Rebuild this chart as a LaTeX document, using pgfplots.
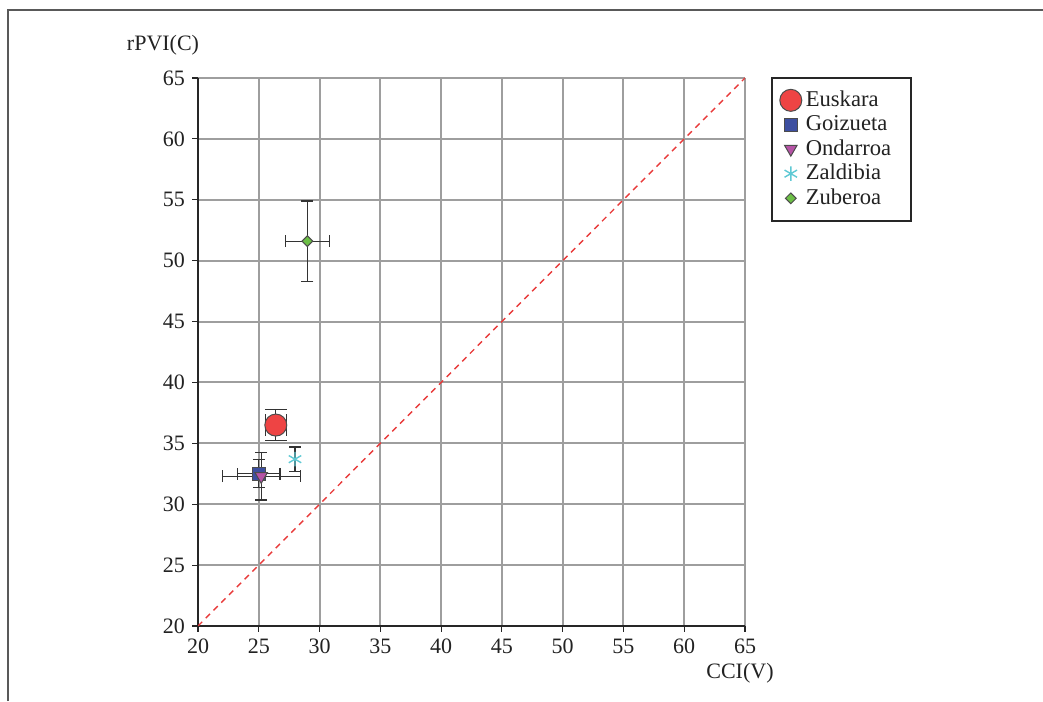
\documentclass[border=0pt]{standalone}
\usepackage{fontspec}
\setmainfont{Liberation Serif}
\usepackage{pgfplots}
\pgfplotsset{compat=1.18}
\definecolor{eusk}{HTML}{EE4444}
\definecolor{goiz}{HTML}{3D4FA0}
\definecolor{onda}{HTML}{B653A6}
\definecolor{zald}{HTML}{5FC9D4}
\definecolor{zube}{HTML}{6CBF46}
\definecolor{diag}{HTML}{E83A3A}
\definecolor{txt}{HTML}{222222}
\begin{document}
\begin{tikzpicture}
\begin{axis}[
  at={(99pt,37.5pt)}, anchor=south west,
  scale only axis, width=273.5pt, height=274pt,
  xmin=20, xmax=65, ymin=20, ymax=65,
  xtick={20,25,...,65}, ytick={20,25,...,65},
  axis lines=left, axis line style={-, draw=black!85, line width=0.8pt},
  tick align=outside, major tick length=3pt,
  tick style={draw=black!85, line width=0.6pt},
  grid=major, major grid style={draw=black!38, line width=1pt},
  font=\fontsize{11}{12}\selectfont, text=txt,
  /pgf/number format/assume math mode=true,
  xlabel={CCI(V)}, ylabel={rPVI(C)},
  every axis x label/.style={at={(axis description cs:1,0)}, anchor=center, xshift=-2.5pt, yshift=-23.5pt},
  every axis y label/.style={at={(axis description cs:0,1)}, anchor=center, xshift=-17.5pt, yshift=16.5pt},
  legend style={at={(1,1)}, anchor=north west, xshift=13pt, yshift=0.5pt,
    draw=black!85, line width=0.8pt, font=\fontsize{11.3}{12}\selectfont,
    text=txt, row sep=-1pt, inner xsep=4pt, inner ysep=4.6pt},
  legend cell align=left,
]
\addplot[diag, dash pattern=on 3pt off 2.5pt, line width=0.7pt, forget plot] coordinates {(20,20) (65,65)};

\addplot[only marks, mark=*, mark size=5.5pt, mark options={fill=eusk, draw=black!70, line width=0.5pt},
  error bars/.cd, x dir=both, x explicit, y dir=both, y explicit,
  error bar style={line width=0.6pt, draw=black!80},
  error mark options={rotate=90, mark size=5.5pt, line width=0.6pt, draw=black!80}]
  coordinates {(26.4,36.5) +- (0.88,1.3)};
\addlegendentry{Euskara}

\addplot[only marks, mark=square*, mark size=3.3pt, mark options={fill=goiz, draw=black!70, line width=0.5pt},
  error bars/.cd, x dir=both, x explicit, y dir=both, y explicit,
  error bar style={line width=0.6pt, draw=black!80},
  error mark options={rotate=90, mark size=3pt, line width=0.6pt, draw=black!80}]
  coordinates {(25.0,32.5) +- (1.75,1.15)};
\addlegendentry{\makebox[46.5pt][l]{Goizueta}}

\addplot[only marks, mark=triangle*, mark size=3.6pt, mark options={rotate=180, fill=onda, draw=black!70, line width=0.5pt},
  error bars/.cd, x dir=both, x explicit, y dir=both, y explicit,
  error bar style={line width=0.6pt, draw=black!80},
  error mark options={rotate=90, mark size=3pt, line width=0.6pt, draw=black!80}]
  coordinates {(25.2,32.3) +- (3.2,1.95)};
\addlegendentry{Ondarroa}

\addplot[only marks, mark=asterisk, mark size=3.6pt, mark options={draw=zald, line width=0.7pt},
  error bars/.cd, y dir=both, y explicit,
  error bar style={line width=0.6pt, draw=black!80},
  error mark options={rotate=90, mark size=3pt, line width=0.6pt, draw=black!80}]
  coordinates {(27.98,33.7) +- (0,1.0)};
\addlegendentry{Zaldibia}

\addplot[only marks, mark=square*, mark size=1.9pt, mark options={rotate=45, fill=zube, draw=black!70, line width=0.5pt},
  error bars/.cd, x dir=both, x explicit, y dir=both, y explicit,
  error bar style={line width=0.6pt, draw=black!80},
  error mark options={rotate=90, mark size=3pt, line width=0.6pt, draw=black!80}]
  coordinates {(29.0,51.6) +- (1.79,3.3)};
\addlegendentry{Zuberoa}
\end{axis}
\draw[black!65, line width=1pt] (4pt,0pt) -- (4pt,345.5pt) -- (521.5pt,345.5pt);
\pgfresetboundingbox
\useasboundingbox (0pt,0pt) rectangle (521.5pt,350.5pt);
\end{tikzpicture}
\end{document}
